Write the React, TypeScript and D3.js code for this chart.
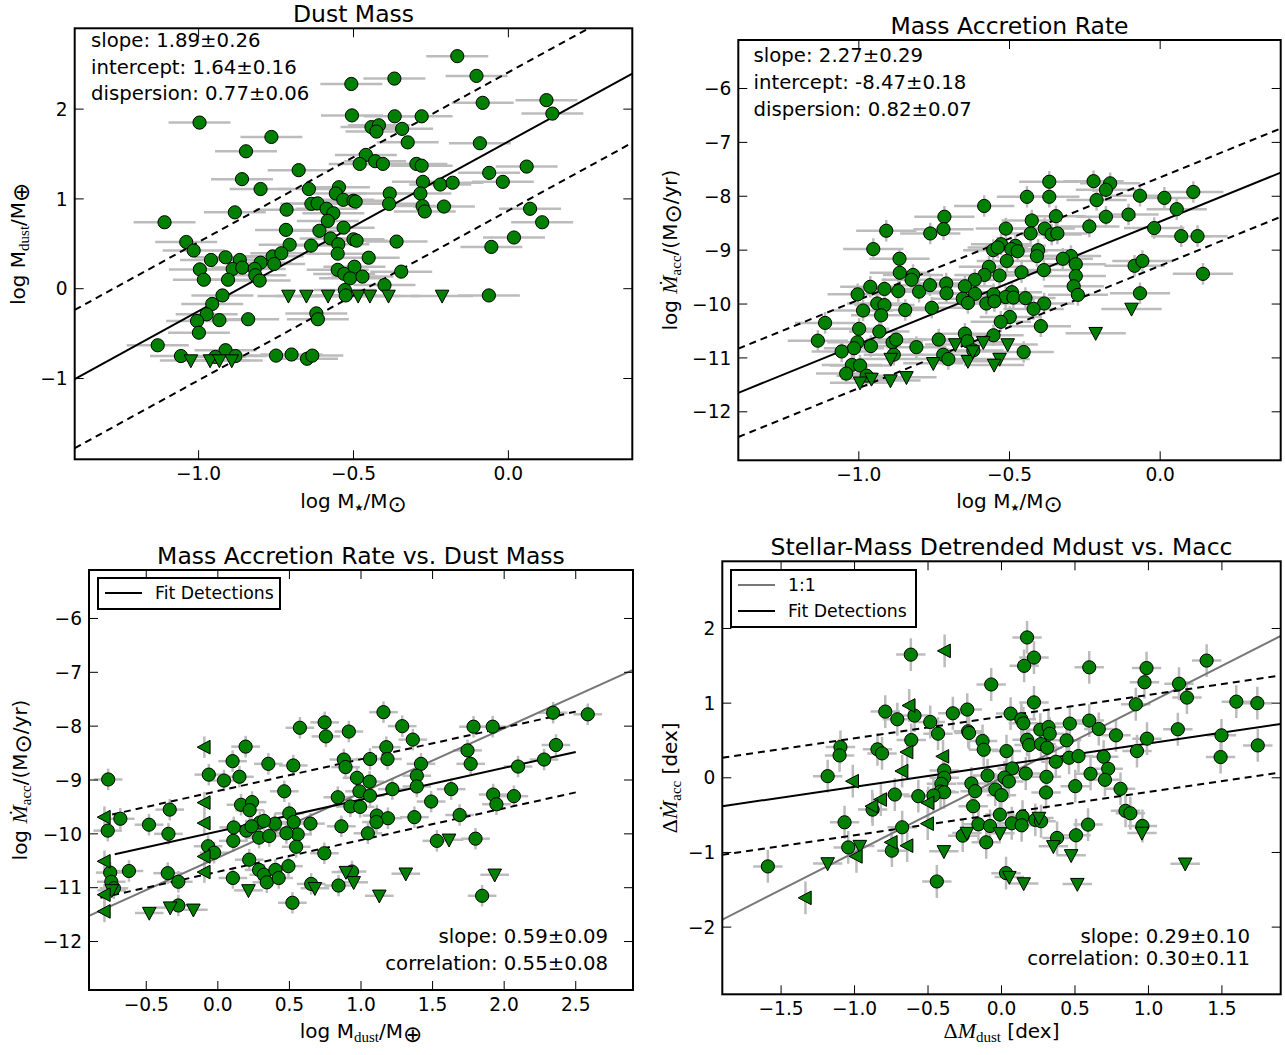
import React from 'react';
import * as d3 from 'd3';

type Pt = [number, number];

// ---------- Panel 1: Dust Mass vs stellar mass ----------
const p1Det: Pt[] = [[-0.165,2.59],[-0.103,2.37],[-0.368,2.34],[-0.507,2.28],[0.123,2.10],[-0.083,2.07],[0.142,1.95],[-0.505,1.93],[-0.367,1.92],[-0.28,1.92],[-0.997,1.85],[-0.442,1.80],[-0.418,1.82],[-0.426,1.75],[-0.343,1.78],[-0.765,1.69],[-0.325,1.63],[-0.092,1.62],[-0.847,1.53],[-0.46,1.49],[-0.48,1.39],[-0.43,1.42],[-0.405,1.39],[-0.297,1.39],[-0.28,1.37],[0.059,1.36],[-0.677,1.32],[-0.062,1.29],[-0.86,1.22],[-0.018,1.19],[-0.276,1.19],[-0.22,1.16],[-0.18,1.18],[-0.80,1.11],[-0.644,1.11],[-0.547,1.13],[-0.557,1.06],[-0.383,1.06],[-0.284,1.06],[-0.533,0.99],[-0.50,0.98],[-0.493,0.97],[-0.636,0.945],[-0.616,0.95],[-0.385,0.945],[-0.277,0.92],[-0.208,0.915],[-0.883,0.85],[-0.716,0.88],[-0.587,0.89],[-0.565,0.84],[-0.27,0.86],[0.07,0.89],[-1.11,0.74],[0.109,0.74],[-0.583,0.755],[-0.718,0.655],[-0.61,0.645],[-0.532,0.68],[-1.04,0.52],[-1.016,0.425],[-0.706,0.49],[-0.637,0.48],[-0.574,0.56],[-0.549,0.495],[-0.551,0.39],[-0.50,0.55],[-0.49,0.535],[-0.361,0.525],[0.018,0.57],[-0.055,0.465],[-0.96,0.32],[-0.913,0.35],[-0.867,0.32],[-0.80,0.29],[-0.761,0.36],[-0.733,0.395],[-0.756,0.275],[-0.451,0.345],[-0.996,0.215],[-0.89,0.22],[-0.859,0.235],[-0.819,0.22],[-0.817,0.15],[-0.803,0.09],[-0.983,0.10],[-0.905,0.10],[-0.551,0.21],[-0.53,0.165],[-0.497,0.245],[-0.511,0.115],[-0.471,0.135],[-0.346,0.19],[-0.40,0.04],[-0.528,-0.015],[-0.525,-0.075],[-0.063,-0.075],[-0.923,-0.075],[-0.956,-0.17],[-0.974,-0.285],[-1.005,-0.36],[-0.999,-0.49],[-0.933,-0.35],[-0.84,-0.34],[-0.62,-0.275],[-0.615,-0.34],[-1.132,-0.63],[-1.057,-0.75],[-0.913,-0.685],[-0.946,-0.76],[-0.881,-0.75],[-0.75,-0.745],[-0.70,-0.733],[-0.65,-0.78],[-0.633,-0.745]];
const p1Upper: Pt[] = [[-0.71,-0.08],[-0.652,-0.08],[-0.582,-0.08],[-0.485,-0.08],[-0.447,-0.08],[-0.387,-0.08],[-0.214,-0.08],[-1.025,-0.80],[-0.963,-0.80],[-0.933,-0.80],[-0.893,-0.80]];
const p1Stats = ['slope: 1.89\u00b10.26', 'intercept: 1.64\u00b10.16', 'dispersion: 0.77\u00b10.06'];
const p1Fit = { slope: 1.89, intercept: 1.64, disp: 0.77 };

// ---------- Panel 2: Mass accretion rate vs stellar mass ----------
const p2Det: Pt[] = [[-0.368,-7.73],[-0.221,-7.72],[-0.166,-7.76],[-0.18,-7.88],[-0.211,-8.07],[-0.442,-8.01],[-0.368,-8.01],[-0.067,-7.99],[0.014,-8.03],[0.11,-7.92],[-0.584,-8.18],[0.055,-8.24],[-0.105,-8.34],[-0.346,-8.37],[-0.18,-8.38],[-0.716,-8.38],[-0.719,-8.61],[-0.909,-8.64],[-0.763,-8.69],[-0.426,-8.45],[-0.512,-8.60],[-0.43,-8.69],[-0.383,-8.60],[-0.36,-8.71],[-0.341,-8.69],[-0.235,-8.56],[-0.02,-8.59],[0.07,-8.74],[0.124,-8.74],[-0.952,-8.98],[-0.528,-8.89],[-0.554,-9.0],[-0.539,-8.95],[-0.48,-8.92],[-0.494,-8.98],[-0.473,-9.02],[-0.405,-9.0],[-0.409,-9.11],[-0.296,-9.11],[-0.323,-9.16],[-0.865,-9.16],[-0.509,-9.20],[-0.28,-9.26],[-0.085,-9.29],[-0.059,-9.20],[-0.568,-9.31],[-0.386,-9.37],[-0.46,-9.41],[-0.864,-9.42],[0.142,-9.44],[-0.82,-9.46],[-0.583,-9.46],[-0.533,-9.47],[-0.28,-9.48],[-0.825,-9.55],[-0.615,-9.55],[-0.962,-9.68],[-0.915,-9.72],[-0.869,-9.76],[-0.80,-9.77],[-0.764,-9.65],[-0.71,-9.62],[-0.709,-9.80],[-0.648,-9.67],[-0.614,-9.81],[-0.553,-9.82],[-0.492,-9.78],[-0.513,-9.87],[-0.487,-9.88],[-0.447,-9.89],[-0.287,-9.67],[-0.273,-9.83],[-0.067,-9.80],[-1.004,-9.82],[-0.655,-9.90],[-0.577,-9.99],[-0.55,-9.95],[-0.385,-9.99],[-0.42,-10.09],[-0.939,-9.99],[-0.915,-10.02],[-0.758,-10.07],[-0.986,-10.12],[-0.846,-10.11],[-0.638,-9.98],[-0.926,-10.21],[-1.112,-10.35],[-0.499,-10.24],[-0.529,-10.33],[-0.396,-10.41],[-0.999,-10.46],[-0.932,-10.51],[-0.553,-10.58],[-0.648,-10.55],[-1.136,-10.68],[-1.005,-10.71],[-0.96,-10.78],[-0.888,-10.71],[-0.876,-10.66],[-0.809,-10.80],[-0.735,-10.66],[-0.64,-10.69],[-1.016,-10.82],[-1.057,-10.88],[-0.62,-10.86],[-0.884,-10.94],[-0.72,-10.94],[-0.703,-11.02],[-0.453,-10.89],[-1.023,-11.13],[-0.996,-11.14],[-1.042,-11.29],[-0.974,-11.33]];
const p2Upper: Pt[] = [[-0.095,-10.09],[-0.214,-10.54],[-0.68,-10.75],[-0.587,-10.71],[-0.506,-10.75],[-0.894,-11.02],[-0.753,-11.10],[-0.638,-11.06],[-0.533,-11.02],[-0.551,-11.13],[-0.622,-10.88],[-0.958,-11.39],[-0.996,-11.46],[-0.895,-11.42],[-0.842,-11.36]];
const p2Stats = ['slope: 2.27\u00b10.29', 'intercept: -8.47\u00b10.18', 'dispersion: 0.82\u00b10.07'];
const p2Fit = { slope: 2.27, intercept: -8.47, disp: 0.82 };

// ---------- Panel 3: Macc vs Mdust ----------
const p3Det: Pt[] = [[1.157,-7.74],[2.584,-7.78],[2.342,-7.75],[0.746,-7.93],[0.755,-8.19],[0.573,-8.03],[1.288,-8.00],[1.786,-8.01],[1.92,-8.01],[0.915,-8.10],[1.362,-8.25],[0.194,-8.38],[1.177,-8.39],[2.362,-8.35],[1.744,-8.45],[1.185,-8.61],[1.063,-8.61],[0.88,-8.62],[0.103,-8.65],[0.353,-8.70],[0.527,-8.73],[1.419,-8.70],[1.766,-8.70],[2.279,-8.62],[2.097,-8.75],[0.892,-8.76],[-0.063,-8.90],[-0.766,-8.99],[0.151,-8.94],[0.043,-9.01],[0.972,-8.96],[1.06,-9.03],[1.39,-8.92],[1.39,-9.12],[0.464,-9.21],[0.989,-9.21],[1.219,-9.17],[1.63,-9.17],[1.063,-9.29],[1.923,-9.27],[2.068,-9.30],[1.946,-9.45],[0.838,-9.32],[1.49,-9.40],[0.926,-9.49],[0.994,-9.50],[0.162,-9.46],[0.239,-9.41],[-0.336,-9.55],[0.222,-9.56],[0.499,-9.62],[1.111,-9.66],[1.689,-9.65],[-0.681,-9.72],[1.373,-9.69],[1.188,-9.71],[1.108,-9.78],[0.293,-9.79],[0.399,-9.81],[0.322,-9.76],[0.53,-9.78],[0.647,-9.81],[-0.481,-9.83],[0.863,-9.86],[-0.769,-9.94],[0.111,-9.88],[0.199,-9.94],[0.236,-9.86],[-0.345,-10.00],[0.558,-10.01],[0.479,-9.99],[1.048,-9.99],[0.288,-10.07],[0.359,-10.04],[0.108,-10.13],[-0.068,-10.23],[-0.026,-10.35],[0.547,-10.24],[0.744,-10.36],[1.53,-10.13],[1.80,-10.09],[0.219,-10.48],[-0.621,-10.69],[-0.35,-10.73],[-0.752,-10.72],[-0.744,-10.89],[-0.276,-10.89],[0.288,-10.67],[0.322,-10.76],[0.402,-10.67],[0.342,-10.90],[0.425,-10.82],[0.493,-10.60],[0.105,-10.82],[0.937,-10.70],[0.652,-10.93],[0.843,-10.96],[1.846,-11.15],[0.521,-11.28],[-0.276,-11.33],[-0.726,-11.01]];
const p3Upper: Pt[] = [[-0.741,-11.05],[-0.479,-11.47],[-0.333,-11.37],[-0.171,-11.41],[0.214,-11.05],[0.678,-11.01],[0.895,-10.71],[0.949,-10.90],[1.128,-11.15],[1.313,-10.74],[1.615,-10.11],[1.934,-10.76]];
const p3Left: Pt[] = [[-0.094,-8.39],[-0.094,-9.42],[-0.094,-9.80],[-0.094,-10.42],[-0.094,-10.71],[-0.792,-9.69],[-0.792,-10.51],[-0.792,-11.13],[-0.792,-11.44]];
const p3Stats = ['slope: 0.59\u00b10.09', 'correlation: 0.55\u00b10.08'];
const p3Fit = { slope: 0.59, intercept: -9.955, disp: 0.75, x0: -0.72, x0d: -0.82, x1: 2.5 };
const p3Ref = { slope: 1.201, intercept: -10.44 };

// ---------- Panel 4: detrended residuals ----------
const p4Det: Pt[] = [[0.174,1.88],[0.221,1.61],[0.154,1.50],[-0.617,1.65],[0.597,1.48],[0.987,1.47],[1.396,1.57],[-0.07,1.25],[0.973,1.28],[1.208,1.26],[1.262,1.075],[0.914,0.985],[0.221,1.01],[1.598,1.02],[1.741,1.00],[-0.791,0.887],[-0.233,0.914],[-0.331,0.864],[-0.592,0.833],[-0.709,0.784],[-0.485,0.748],[-0.432,0.591],[-0.227,0.623],[-0.221,0.60],[0.062,0.86],[0.135,0.784],[0.149,0.73],[0.264,0.645],[0.32,0.68],[0.328,0.59],[0.465,0.726],[0.597,0.766],[0.662,0.654],[0.779,0.569],[1.20,0.65],[1.497,0.569],[-0.614,0.506],[-0.129,0.493],[-0.121,0.376],[0.034,0.358],[0.174,0.51],[0.188,0.439],[0.269,0.452],[0.311,0.403],[0.443,0.502],[0.99,0.524],[1.744,0.434],[0.922,0.358],[1.491,0.278],[-1.096,0.412],[-1.102,0.30],[-0.844,0.381],[-0.813,0.327],[-1.183,0.022],[0.37,0.215],[0.46,0.269],[0.524,0.291],[0.695,0.282],[0.726,0.121],[0.704,-0.027],[0.073,0.125],[0.165,0.058],[-0.39,0.099],[-0.39,0.0],[0.306,0.013],[-0.095,0.031],[0.02,0.004],[0.05,-0.049],[0.606,0.054],[-0.409,-0.081],[-0.415,-0.184],[-0.39,-0.193],[-0.205,-0.076],[-0.179,-0.179],[-0.042,-0.157],[0.0,-0.233],[0.502,-0.112],[0.81,-0.148],[0.303,-0.197],[-0.726,-0.224],[-0.566,-0.246],[-0.463,-0.237],[-0.193,-0.381],[-0.877,-0.426],[0.844,-0.443],[0.877,-0.475],[-0.011,-0.493],[0.143,-0.52],[-0.157,-0.623],[-0.078,-0.645],[0.07,-0.609],[0.137,-0.636],[0.23,-0.564],[0.269,-0.582],[0.589,-0.627],[0.959,-0.645],[-0.676,-0.663],[-1.068,-0.596],[-0.264,-0.775],[-0.104,-0.864],[0.378,-0.806],[0.507,-0.77],[-1.043,-0.932],[-0.746,-0.976],[-1.59,-1.187],[0.031,-1.277],[-0.44,-1.389]];
const p4Upper: Pt[] = [[-1.183,-1.147],[-0.964,-0.914],[-0.392,-0.985],[-0.235,-0.739],[-0.011,-0.744],[0.255,-0.538],[0.353,-0.918],[0.053,-1.33],[0.151,-1.415],[0.474,-1.039],[0.516,-1.424],[0.956,-0.739],[1.25,-1.151]];
const p4Left: Pt[] = [[-0.387,1.70],[-0.628,0.968],[-0.642,0.345],[-0.398,0.287],[-0.676,0.09],[-1.012,-0.045],[-0.821,-0.291],[-0.88,-0.381],[-0.499,-0.336],[-0.502,-0.614],[-0.749,-0.864],[-0.642,-0.909],[-0.987,-1.053],[-1.334,-1.608]];
const p4Stats = ['slope: 0.29\u00b10.10', 'correlation: 0.30\u00b10.11'];
const p4Fit = { slope: 0.29, intercept: 0.17, disp: 0.65 };
const p4Ref = { slope: 1, intercept: 0 };

const SANS = 'DejaVu Sans, Verdana, sans-serif';
const SERIF = 'Liberation Serif, DejaVu Serif, serif';
const GREEN = '#008000';
const ERR = '#bcbcbc';
const TICK_FS = 18.6;
const STAT_FS = 19.7;
const TITLE_FS = 23.5;
const LABEL_FS = 20;

interface Box { left: number; right: number; top: number; bottom: number; }

const fmtTick = (digits: number) => (v: number) => {
  const s = digits > 0 ? v.toFixed(digits) : String(Math.round(v));
  return s.replace('-', '\u2212');
};

function downTri(cx: number, cy: number) {
  return `M${cx - 6.8},${cy - 5.7}L${cx + 6.8},${cy - 5.7}L${cx},${cy + 7.2}Z`;
}
function leftTri(cx: number, cy: number) {
  return `M${cx - 7.2},${cy}L${cx + 5.7},${cy - 6.8}L${cx + 5.7},${cy + 6.8}Z`;
}

function Panel(props: {
  id: string; box: Box; xd: [number, number]; yd: [number, number];
  xticks: number[]; yticks: number[]; xdig: number; ydig: number;
  det: Pt[]; upper: Pt[]; left?: Pt[]; xerr: number; yerr: number;
  title: string; children?: React.ReactNode;
  fit: { slope: number; intercept: number; disp: number; x0?: number; x0d?: number; x1?: number };
  refLine?: { slope: number; intercept: number };
}) {
  const { box, xd, yd } = props;
  const x = d3.scaleLinear().domain(xd).range([box.left, box.right]);
  const y = d3.scaleLinear().domain(yd).range([box.bottom, box.top]);
  const line = d3.line<Pt>().x(d => x(d[0])).y(d => y(d[1]));
  const f = props.fit;
  const fx0 = f.x0 ?? xd[0];
  const fx0d = f.x0d ?? xd[0];
  const fx1 = f.x1 ?? xd[1];
  const fitPts = (x0: number, off: number): Pt[] => [[x0, f.intercept + off + f.slope * x0], [fx1, f.intercept + off + f.slope * fx1]];
  const tl = 9;
  const tf = fmtTick(props.xdig);
  const tfy = fmtTick(props.ydig);
  const clipId = 'clip-' + props.id;
  return (
    <g>
      <defs>
        <clipPath id={clipId}>
          <rect x={box.left} y={box.top} width={box.right - box.left} height={box.bottom - box.top} />
        </clipPath>
      </defs>
      <g clipPath={`url(#${clipId})`}>
        <g stroke={ERR} strokeWidth={2.5}>
          {props.det.map((d, i) => (
            <g key={'e' + i}>
              <line x1={x(d[0] - props.xerr)} x2={x(d[0] + props.xerr)} y1={y(d[1])} y2={y(d[1])} />
              <line x1={x(d[0])} x2={x(d[0])} y1={y(d[1] - props.yerr)} y2={y(d[1] + props.yerr)} />
            </g>
          ))}
          {props.upper.map((d, i) => (
            <line key={'u' + i} x1={x(d[0] - props.xerr)} x2={x(d[0] + props.xerr)} y1={y(d[1])} y2={y(d[1])} />
          ))}
          {(props.left || []).map((d, i) => (
            <line key={'l' + i} x1={x(d[0])} x2={x(d[0])} y1={y(d[1] - props.yerr)} y2={y(d[1] + props.yerr)} />
          ))}
        </g>
        {props.refLine && (
          <path d={line([[xd[0], props.refLine.intercept + props.refLine.slope * xd[0]], [xd[1], props.refLine.intercept + props.refLine.slope * xd[1]]]) || ''}
            stroke="#777777" strokeWidth={2} fill="none" />
        )}
        <path d={line(fitPts(fx0, 0)) || ''} stroke="#000" strokeWidth={2} fill="none" />
        <path d={line(fitPts(fx0d, f.disp)) || ''} stroke="#000" strokeWidth={2} strokeDasharray="7,5" fill="none" />
        <path d={line(fitPts(fx0d, -f.disp)) || ''} stroke="#000" strokeWidth={2} strokeDasharray="7,5" fill="none" />
        <g fill={GREEN} stroke="#000" strokeWidth={1}>
          {props.det.map((d, i) => <circle key={'c' + i} cx={x(d[0])} cy={y(d[1])} r={6.6} />)}
          {props.upper.map((d, i) => <path key={'t' + i} d={downTri(x(d[0]), y(d[1]))} />)}
          {(props.left || []).map((d, i) => <path key={'lt' + i} d={leftTri(x(d[0]), y(d[1]))} />)}
        </g>
      </g>
      <g stroke="#000" strokeWidth={1}>
        {props.xticks.map((t, i) => (
          <g key={'xt' + i}>
            <line x1={x(t)} x2={x(t)} y1={box.bottom} y2={box.bottom - tl} />
            <line x1={x(t)} x2={x(t)} y1={box.top} y2={box.top + tl} />
          </g>
        ))}
        {props.yticks.map((t, i) => (
          <g key={'yt' + i}>
            <line x1={box.left} x2={box.left + tl} y1={y(t)} y2={y(t)} />
            <line x1={box.right} x2={box.right - tl} y1={y(t)} y2={y(t)} />
          </g>
        ))}
      </g>
      <g fontFamily={SANS} fontSize={TICK_FS} fill="#000">
        {props.xticks.map((t, i) => (
          <text key={'xl' + i} x={x(t)} y={box.bottom + 21} textAnchor="middle">{tf(t)}</text>
        ))}
        {props.yticks.map((t, i) => (
          <text key={'yl' + i} x={box.left - 7} y={y(t)} dy="0.36em" textAnchor="end">{tfy(t)}</text>
        ))}
      </g>
      <rect x={box.left} y={box.top} width={box.right - box.left} height={box.bottom - box.top} fill="none" stroke="#000" strokeWidth={2} />
      <text x={(box.left + box.right) / 2} y={box.top - 6} textAnchor="middle" fontFamily={SANS} fontSize={TITLE_FS}>{props.title}</text>
      {props.children}
    </g>
  );
}

function StatsTL({ lines, x, y0, dy }: { lines: string[]; x: number; y0: number; dy: number }) {
  return (
    <g fontFamily={SANS} fontSize={STAT_FS}>
      {lines.map((s, i) => <text key={i} x={x} y={y0 + i * dy} dy="0.35em">{s}</text>)}
    </g>
  );
}
function StatsBR({ lines, x, y0, dy }: { lines: string[]; x: number; y0: number; dy: number }) {
  return (
    <g fontFamily={SANS} fontSize={STAT_FS}>
      {lines.map((s, i) => <text key={i} x={x} y={y0 + i * dy} dy="0.35em" textAnchor="end">{s}</text>)}
    </g>
  );
}

const sub = (s: string) => <tspan fontFamily={SERIF} fontSize={15} dy={4}>{s}</tspan>;

function LabelMstar() {
  return (
    <>
      <tspan>log M</tspan>
      <tspan fontSize={10} dy={3}>{'\u2605'}</tspan>
      <tspan dy={-3}>/M</tspan>
      <tspan fontSize={23} dy={4}>{'\u2299'}</tspan>
    </>
  );
}
function LabelMdust() {
  return (
    <>
      <tspan>log M</tspan>
      {sub('dust')}
      <tspan dy={-4}>/M</tspan>
      <tspan fontSize={23} dy={4}>{'\u2295'}</tspan>
    </>
  );
}
function LabelMacc() {
  return (
    <>
      <tspan>log </tspan>
      <tspan fontFamily={SERIF} fontStyle="italic" fontSize={22}>{'M\u0307'}</tspan>
      {sub('acc')}
      <tspan dy={-4}>/(M</tspan>
      <tspan fontSize={23} dy={4}>{'\u2299'}</tspan>
      <tspan dy={-4}>/yr)</tspan>
    </>
  );
}

function Legend({ x, y, w, items }: { x: number; y: number; w: number; items: { label: string; color: string }[] }) {
  const h = 8 + items.length * 26 - 3;
  return (
    <g>
      <rect x={x} y={y} width={w} height={h} fill="#fff" stroke="#000" strokeWidth={2} />
      {items.map((it, i) => (
        <g key={i}>
          <line x1={x + 7} x2={x + 44} y1={y + 15 + i * 26} y2={y + 15 + i * 26} stroke={it.color} strokeWidth={2} />
          <text x={x + 57} y={y + 15 + i * 26} dy="0.35em" fontFamily={SANS} fontSize={17.3}>{it.label}</text>
        </g>
      ))}
    </g>
  );
}

export default function App() {
  const b1: Box = { left: 74.7, right: 632.3, top: 28.3, bottom: 459.3 };
  const b2: Box = { left: 738.3, right: 1280.7, top: 40, bottom: 460.3 };
  const b3: Box = { left: 89, right: 633, top: 570, bottom: 990 };
  const b4: Box = { left: 722.3, right: 1280.7, top: 561.3, bottom: 994.3 };
  return (
    <svg width={1285} height={1055} style={{ position: 'absolute', left: 0, top: 0, background: '#fff' }}>
      <rect width={1285} height={1055} fill="#fff" />
      <Panel id="p1" box={b1} xd={[-1.4, 0.4]} yd={[-1.9, 2.9]} xticks={[-1, -0.5, 0]} yticks={[-1, 0, 1, 2]} xdig={1} ydig={0}
        det={p1Det} upper={p1Upper} xerr={0.1} yerr={0.04} title="Dust Mass" fit={p1Fit}>
        <StatsTL lines={p1Stats} x={91} y0={40} dy={26.7} />
        <text x={(b1.left + b1.right) / 2} y={508} textAnchor="middle" fontFamily={SANS} fontSize={LABEL_FS}><LabelMstar /></text>
        <text transform={`translate(25,${(b1.top + b1.bottom) / 2}) rotate(-90)`} textAnchor="middle" fontFamily={SANS} fontSize={LABEL_FS}><LabelMdust /></text>
      </Panel>
      <Panel id="p2" box={b2} xd={[-1.4, 0.4]} yd={[-12.9, -5.1]} xticks={[-1, -0.5, 0]} yticks={[-12, -11, -10, -9, -8, -7, -6]} xdig={1} ydig={0}
        det={p2Det} upper={p2Upper} xerr={0.1} yerr={0.2} title="Mass Accretion Rate" fit={p2Fit}>
        <StatsTL lines={p2Stats} x={753.6} y0={55} dy={27} />
        <text x={(b2.left + b2.right) / 2} y={508} textAnchor="middle" fontFamily={SANS} fontSize={LABEL_FS}><LabelMstar /></text>
        <text transform={`translate(677,${(b2.top + b2.bottom) / 2}) rotate(-90)`} textAnchor="middle" fontFamily={SANS} fontSize={LABEL_FS}><LabelMacc /></text>
      </Panel>
      <Panel id="p3" box={b3} xd={[-0.9, 2.9]} yd={[-12.9, -5.1]} xticks={[-0.5, 0, 0.5, 1, 1.5, 2, 2.5]} yticks={[-12, -11, -10, -9, -8, -7, -6]} xdig={1} ydig={0}
        det={p3Det} upper={p3Upper} left={p3Left} xerr={0.1} yerr={0.2} title="Mass Accretion Rate vs. Dust Mass" fit={p3Fit} refLine={p3Ref}>
        <StatsBR lines={p3Stats} x={608} y0={936} dy={26.7} />
        <Legend x={98} y={578} w={182} items={[{ label: 'Fit Detections', color: '#000' }]} />
        <text x={(b3.left + b3.right) / 2} y={1038} textAnchor="middle" fontFamily={SANS} fontSize={LABEL_FS}><LabelMdust /></text>
        <text transform={`translate(27,${(b3.top + b3.bottom) / 2}) rotate(-90)`} textAnchor="middle" fontFamily={SANS} fontSize={LABEL_FS}><LabelMacc /></text>
      </Panel>
      <Panel id="p4" box={b4} xd={[-1.9, 1.9]} yd={[-2.9, 2.9]} xticks={[-1.5, -1, -0.5, 0, 0.5, 1, 1.5]} yticks={[-2, -1, 0, 1, 2]} xdig={1} ydig={0}
        det={p4Det} upper={p4Upper} left={p4Left} xerr={0.1} yerr={0.22} title="Stellar-Mass Detrended Mdust vs. Macc" fit={p4Fit} refLine={p4Ref}>
        <StatsBR lines={p4Stats} x={1250} y0={936} dy={22} />
        <Legend x={731} y={570} w={185} items={[{ label: '1:1', color: '#777777' }, { label: 'Fit Detections', color: '#000' }]} />
        <text x={(b4.left + b4.right) / 2} y={1038} textAnchor="middle" fontFamily={SANS} fontSize={LABEL_FS}>
          <tspan fontFamily={SERIF} fontSize={22}>{'\u0394'}</tspan>
          <tspan fontFamily={SERIF} fontStyle="italic" fontSize={22}>M</tspan>
          {sub('dust')}
          <tspan dy={-4}> [dex]</tspan>
        </text>
        <text transform={`translate(677,${(b4.top + b4.bottom) / 2}) rotate(-90)`} textAnchor="middle" fontFamily={SANS} fontSize={LABEL_FS}>
          <tspan fontFamily={SERIF} fontSize={22}>{'\u0394'}</tspan>
          <tspan fontFamily={SERIF} fontStyle="italic" fontSize={22}>{'M\u0307'}</tspan>
          {sub('acc')}
          <tspan dy={-4}> [dex]</tspan>
        </text>
      </Panel>
    </svg>
  );
}
